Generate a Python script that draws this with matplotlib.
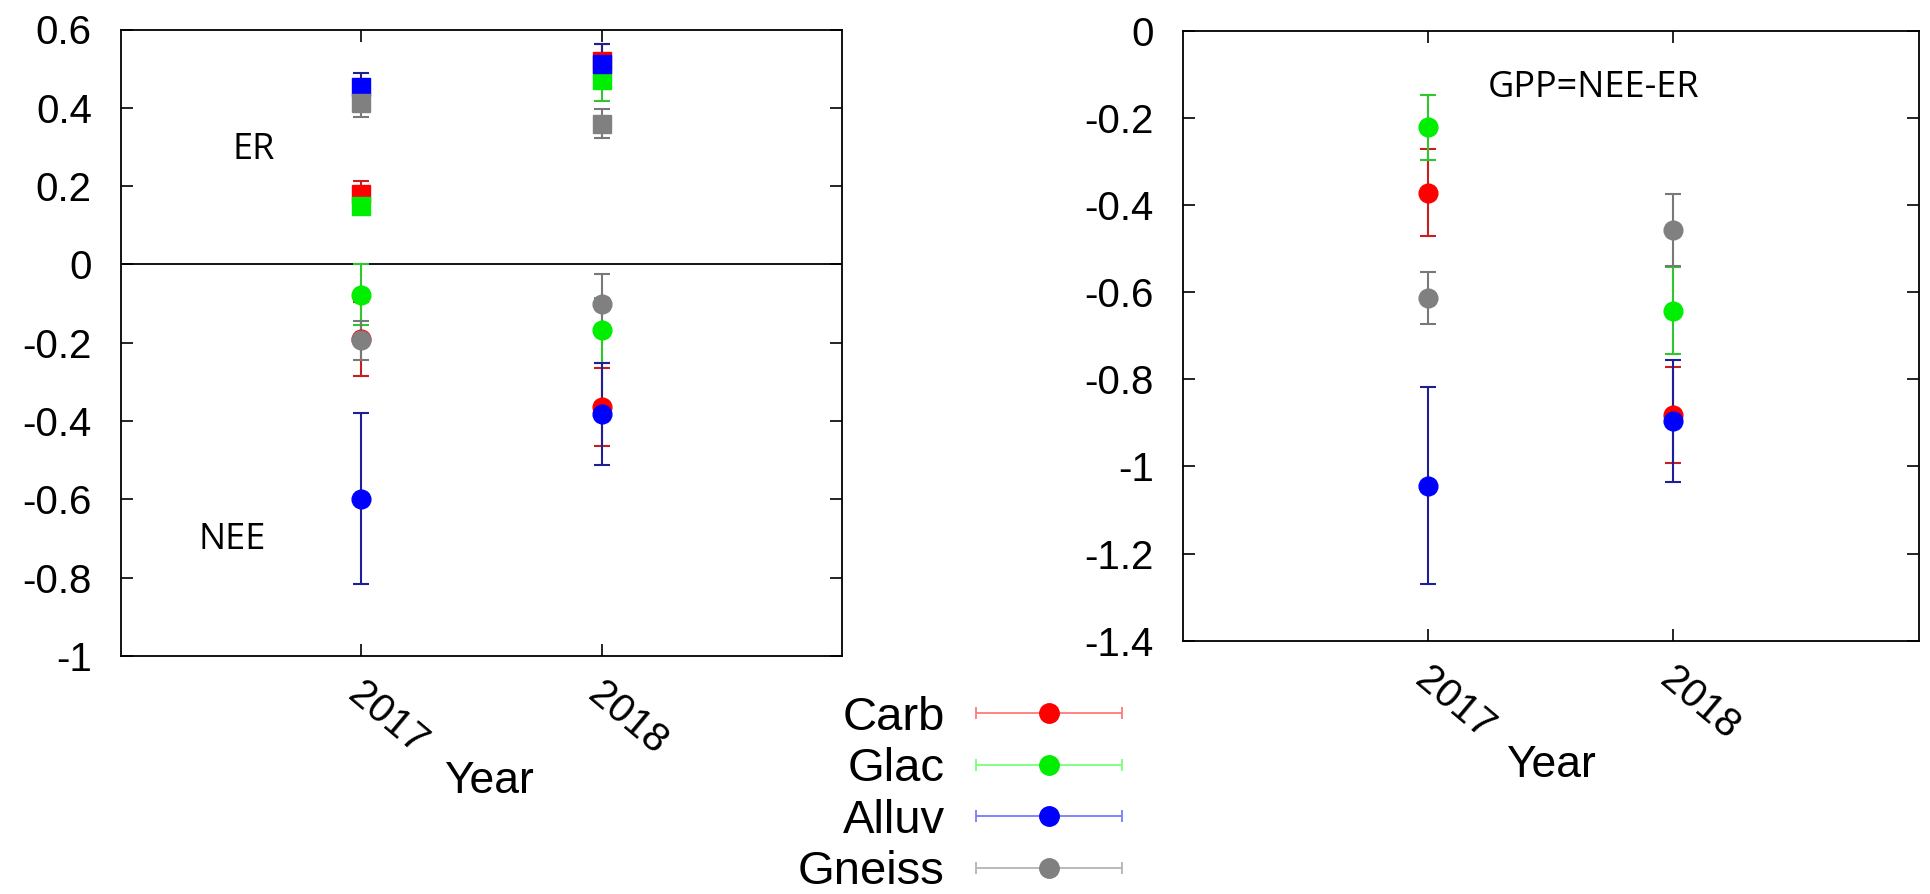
import numpy as np
import matplotlib
matplotlib.use("Agg")
import matplotlib.pyplot as plt
from matplotlib.container import ErrorbarContainer
from matplotlib.legend_handler import HandlerErrorbar
from matplotlib.transforms import ScaledTranslation

# ---------------- data ----------------
years = [2017, 2018]
year_labels = ["2017", "2018"]
sites = ["Carb", "Glac", "Alluv", "Gneiss"]

er_mean = {"Carb": [0.180, 0.520], "Glac": [0.148, 0.470],
           "Alluv": [0.452, 0.512], "Gneiss": [0.413, 0.359]}
er_err = {"Carb": [0.032, 0.042], "Glac": [0.020, 0.053],
          "Alluv": [0.037, 0.051], "Gneiss": [0.037, 0.037]}

nee_mean = {"Carb": [-0.190, -0.364], "Glac": [-0.077, -0.168],
            "Alluv": [-0.598, -0.381], "Gneiss": [-0.194, -0.100]}
nee_err = {"Carb": [0.095, 0.100], "Glac": [0.077, 0.083],
           "Alluv": [0.219, 0.130], "Gneiss": [0.050, 0.075]}

gpp_mean = {"Carb": [-0.372, -0.882], "Glac": [-0.222, -0.643],
            "Alluv": [-1.044, -0.895], "Gneiss": [-0.613, -0.458]}
gpp_err = {"Carb": [0.100, 0.110], "Glac": [0.074, 0.100],
           "Alluv": [0.226, 0.140], "Gneiss": [0.059, 0.083]}

left_yticks = [0.6, 0.4, 0.2, 0, -0.2, -0.4, -0.6, -0.8, -1]
left_ylabels = ["0.6", "0.4", "0.2", "0", "-0.2", "-0.4", "-0.6", "-0.8", "-1"]
right_yticks = [0, -0.2, -0.4, -0.6, -0.8, -1.0, -1.2, -1.4]
right_ylabels = ["0", "-0.2", "-0.4", "-0.6", "-0.8", "-1", "-1.2", "-1.4"]

# ---------------- style ----------------
colors = {"Carb": "#ff0000", "Glac": "#00ee00", "Alluv": "#0000ff", "Gneiss": "#808080"}
ecolors = {"Carb": "#c81e1e", "Glac": "#2ec82e", "Alluv": "#1e1e96", "Gneiss": "#787878"}
leg_ecolors = {"Carb": "#ff7a7a", "Glac": "#7aff7a", "Alluv": "#7a7aff", "Gneiss": "#b4b4b4"}

plt.rcParams["font.family"] = ["Liberation Sans", "DejaVu Sans"]

W, H = 1930, 894
fig = plt.figure(figsize=(W / 100, H / 100), dpi=100)

ax1 = fig.add_axes([121 / W, 1 - 656 / H, (842 - 121) / W, (656 - 29.5) / H])
ax2 = fig.add_axes([1183 / W, 1 - 640.7 / H, (1918.7 - 1183) / W, (640.7 - 30.7) / H])

eb_kw = dict(capsize=6, elinewidth=1.5, capthick=1.5)

for s in sites:
    ax1.errorbar(years, er_mean[s], yerr=er_err[s], fmt="s", ms=13.5,
                 color=colors[s], mec=colors[s], ecolor=ecolors[s], **eb_kw)
    ax1.errorbar(years, nee_mean[s], yerr=nee_err[s], fmt="o", ms=13.5,
                 color=colors[s], mec=colors[s], ecolor=ecolors[s], **eb_kw)
    ax2.errorbar(years, gpp_mean[s], yerr=gpp_err[s], fmt="o", ms=13.5,
                 color=colors[s], mec=colors[s], ecolor=ecolors[s], **eb_kw)

ax1.axhline(0, color="black", lw=1.3, zorder=0.5)

# legend handles (horizontal error-bar samples, gnuplot style)
handles = []
for s in sites:
    h = ax1.errorbar([np.nan], [np.nan], xerr=[1], fmt="o", ms=14,
                     color=colors[s], mec=colors[s], ecolor=leg_ecolors[s],
                     capsize=4, elinewidth=1.3, capthick=1.3, label=s)
    handles.append(h)

for ax, yt, yl, ylim in ((ax1, left_yticks, left_ylabels, (-1, 0.6)),
                         (ax2, right_yticks, right_ylabels, (-1.4, 0))):
    ax.set_xlim(2016, 2019)
    ax.set_ylim(*ylim)
    ax.set_yticks(yt, yl)
    ax.set_xticks(years, year_labels, rotation=-40, ha="left", va="top",
                  rotation_mode="anchor")
    ax.tick_params(axis="both", direction="in", length=8.5, width=1.2,
                   top=True, right=True, labelsize=29, colors="black")
    ax.tick_params(axis="y", pad=21)
    ax.tick_params(axis="x", pad=14)
    for lab in ax.get_xticklabels():
        lab.set_transform(lab.get_transform() +
                          ScaledTranslation(0.04, 0, fig.dpi_scale_trans))
    for sp in ax.spines.values():
        sp.set_linewidth(1.3)
    ax.set_xlabel("Year", fontsize=32, va="center")
    ax.xaxis.set_label_coords(0.51, -0.2)

ax2.xaxis.set_label_coords(0.50, -0.205)

# annotation texts
txt_kw = dict(family=["Open Sans", "DejaVu Sans"], fontsize=26, ha="center", va="center")
ax1.text((254 - 121) / 721, (656 - 150) / 626.5, "ER", transform=ax1.transAxes, **txt_kw)
ax1.text((232 - 121) / 721, (656 - 540) / 626.5, "NEE", transform=ax1.transAxes, **txt_kw)
ax2.text((1594 - 1183) / 735.7, (640.7 - 88) / 610, "GPP=NEE-ER", transform=ax2.transAxes, **txt_kw)

fig.legend(handles, sites, loc="center right",
           bbox_to_anchor=(1122 / W, 1 - 795 / H), frameon=False,
           markerfirst=False, numpoints=1, handlelength=3.1,
           handletextpad=0.65, labelspacing=0.16, borderpad=0,
           borderaxespad=0, fontsize=34,
           handler_map={ErrorbarContainer: HandlerErrorbar(xerr_size=1.55)})

fig.savefig("out.png", dpi=100)
